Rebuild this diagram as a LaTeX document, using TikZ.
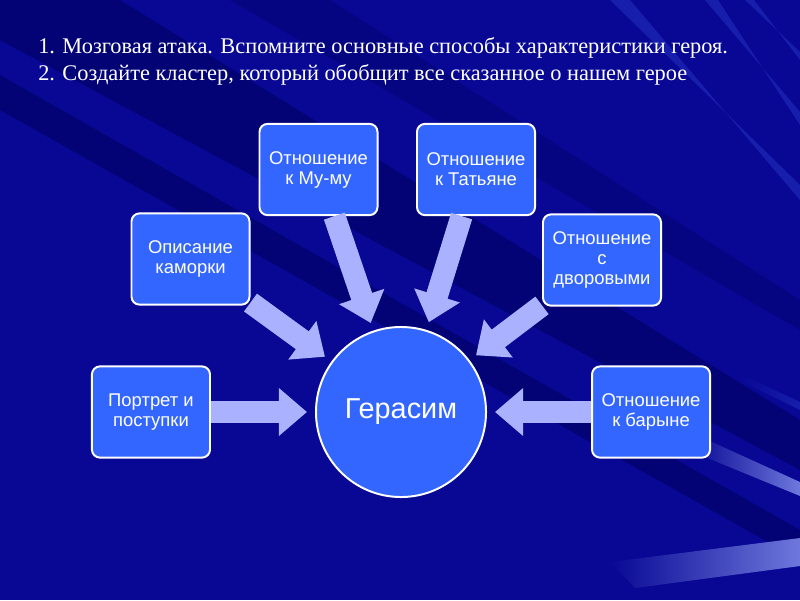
\documentclass[tikz,border=0pt]{standalone}
\usepackage{fontspec}
\setmainfont{Liberation Serif}
\setsansfont{Liberation Sans}
\usetikzlibrary{arrows.meta,calc,positioning}
\definecolor{slideblue}{RGB}{8,8,148}
\definecolor{darkband}{RGB}{3,3,118}
\definecolor{lightband}{RGB}{24,30,172}
\definecolor{glowband}{RGB}{110,120,220}
\definecolor{boxblue}{RGB}{51,102,255}
\definecolor{flowcolor}{RGB}{170,178,255}
\tikzset{
    x=0.025cm, y=-0.025cm,
    topic/.style={rectangle, draw=white, line width=1.4pt, fill=boxblue,
        rounded corners=0.2cm, minimum width=2.95cm, minimum height=2.28cm,
        align=center, text=white, inner sep=2pt,
        font=\sffamily\fontsize{13.1}{14.2}\selectfont},
    hero/.style={circle, draw=white, line width=1.4pt, fill=boxblue,
        minimum size=4.25cm, text=white, font=\sffamily\fontsize{20.5}{24}\selectfont},
    flow/.style={draw=flowcolor, line width=0.55cm, shorten >=0.2cm,
        -{Triangle[width=1.15cm,length=0.7cm]}},
    titleline/.style={anchor=base west, text=white, inner sep=0pt,
        font=\fontsize{15.9}{18}\selectfont}
}
\begin{document}
\begin{tikzpicture}
    \useasboundingbox (0,0) rectangle (800,600);
    % slide background with rays
    \begin{scope}
        \clip (0,0) rectangle (800,600);
        \fill[slideblue] (0,0) rectangle (800,600);
        \fill[darkband] (0,0) -- (120,0) -- (800,420) -- (800,470) -- (0,40) -- cycle;
        \fill[darkband] (0,75) -- (0,110) -- (800,560) -- (800,530) -- cycle;
        \fill[darkband!60!slideblue] (230,0) -- (330,0) -- (800,300) -- (800,330) -- cycle;
        \fill[lightband] (705,0) -- (718,0) -- (800,125) -- (800,112) -- cycle;
        \fill[lightband] (745,0) -- (754,0) -- (800,60) -- (800,52) -- cycle;
        \fill[lightband] (610,0) -- (630,0) -- (800,200) -- (800,185) -- cycle;
        \shade[left color=slideblue, right color=glowband]
            (690,432) -- (800,482) -- (800,496) -- (700,455) -- cycle;
        \shade[left color=slideblue, right color=lightband]
            (740,374) -- (800,402) -- (800,410) -- (745,383) -- cycle;
        \shade[left color=slideblue, right color=glowband]
            (610,562) -- (800,538) -- (800,566) -- (635,588) -- cycle;
    \end{scope}
    % task text
    \node[titleline] (task1) at (38,53) {1. Мозговая атака. Вспомните основные способы характеристики героя.};
    \node[titleline] (task2) at (38,80) {2. Создайте кластер, который обобщит все сказанное о нашем герое};
    % cluster
    \node[hero] (hero) at (401,412) {Герасим};
    \node[topic] (portrait) [left=2.6cm of hero] {Портрет и\\поступки};
    \node[topic] (barynya) [right=2.6cm of hero] {Отношение\\к барыне};
    \node[topic] (kamorka) at (190.5,259) {Описание\\каморки};
    \node[topic] (mumu) at (318.5,169.5) {Отношение\\к Му-му};
    \node[topic] (tatyana) at (476,169.5) {Отношение\\к Татьяне};
    \node[topic] (dvor) at (602,260) {Отношение\\с\\дворовыми};
    % arrows into the hero
    \foreach \src in {portrait,kamorka,mumu,tatyana,dvor,barynya}
        \draw[flow] (\src) -- (hero);
\end{tikzpicture}
\end{document}
